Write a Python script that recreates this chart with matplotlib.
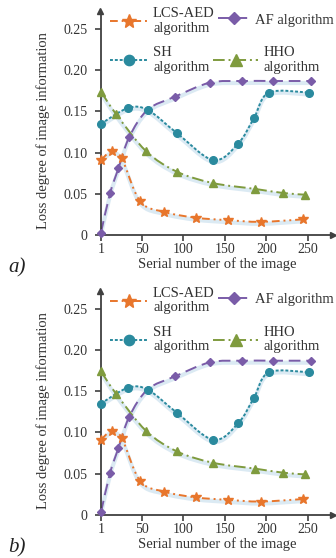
import matplotlib
matplotlib.use('Agg')
import matplotlib.pyplot as plt
from matplotlib.path import Path
from matplotlib.patches import PathPatch
from matplotlib.lines import Line2D
import matplotlib.transforms as mtransforms
import numpy as np

plt.rcParams['font.family'] = ['Liberation Serif', 'DejaVu Serif']

# data
lcs_x = [1, 14, 26, 48, 77, 115, 154, 193, 244]
lcs_y = [0.091, 0.102, 0.093, 0.041, 0.028, 0.021, 0.018, 0.016, 0.019]

af_x = [1, 12, 22, 35, 57, 90, 132, 171, 208, 253]
af_y = [0.003, 0.051, 0.081, 0.119, 0.152, 0.168, 0.185, 0.187, 0.187, 0.187]

sh_x = [1, 33, 57, 92, 136, 166, 185, 203, 251]
sh_y = [0.135, 0.154, 0.152, 0.124, 0.091, 0.111, 0.142, 0.173, 0.173]

hho_x = [1, 19, 55, 92, 136, 186, 220, 246]
hho_y = [0.174, 0.147, 0.102, 0.077, 0.063, 0.056, 0.051, 0.049]

xticks = [1, 50, 100, 150, 200, 250]
yticks = [0, 0.05, 0.10, 0.15, 0.20, 0.25]
ytick_labels = ['0', '0.05', '0.10', '0.15', '0.20', '0.25']

series = [
    # label, x, y, color, marker, markersize, dashes
    ('LCS-AED\nalgorithm', lcs_x, lcs_y, '#e8762c', '*', 7.5, (4, 2, 1, 2, 1, 2)),
    ('AF algorithm', af_x, af_y, '#7a5ca8', 'D', 4.5, (6, 3)),
    ('SH\nalgorithm', sh_x, sh_y, '#2a8a9e', 'o', 5.5, (1.5, 1)),
    ('HHO\nalgorithm', hho_x, hho_y, '#7f9b3e', '^', 6, (6, 2, 1, 2)),
]

W, H = 336, 558
fig = plt.figure(figsize=(W / 100, H / 100), dpi=100)


def smooth_path(x, y):
    # cubic Bezier path through the points (Catmull-Rom style handles)
    p = np.column_stack([x, y]).astype(float)
    ext = np.vstack([p[0], p, p[-1]])
    verts = [p[0]]
    codes = [Path.MOVETO]
    for i in range(len(p) - 1):
        p0, p1, p2, p3 = ext[i], ext[i + 1], ext[i + 2], ext[i + 3]
        c1 = p1 + (p2 - p0) / 6
        c2 = p2 - (p3 - p1) / 6
        verts += [c1, c2, p2]
        codes += [Path.CURVE4] * 3
    return Path(verts, codes)


def px(x, y):
    return (x / W, 1 - y / H)


spine_c = '#404040'
panel_offsets = [0, 279.7]
panel_names = ['a)', 'b)']

for off, name in zip(panel_offsets, panel_names):
    top = 11 + off
    bottom = 235 + off
    ax = fig.add_axes([101 / W, 1 - bottom / H, (333 - 101) / W, (bottom - top) / H])
    ax.set_xlim(1, 280)
    ax.set_ylim(0, 0.272)
    for s in ['top', 'right']:
        ax.spines[s].set_visible(False)
    for s in ['left', 'bottom']:
        ax.spines[s].set_color(spine_c)
        ax.spines[s].set_linewidth(1.3)
    ax.plot(1, 0, '>', color=spine_c, ms=5, transform=ax.get_yaxis_transform(), clip_on=False)
    ax.plot(0, 1, '^', color=spine_c, ms=5, transform=ax.get_xaxis_transform(), clip_on=False)
    ax.set_xticks(xticks)
    ax.set_yticks(yticks)
    ax.set_yticklabels(ytick_labels)
    ax.tick_params(direction='out', length=4.5, width=1.2, color=spine_c,
                   labelsize=10, labelcolor='#333333', pad=1.5)
    ax.tick_params(axis='y', pad=5)

    shadow_tr = mtransforms.offset_copy(ax.transData, fig=fig, x=0, y=-2, units='dots')
    handles = []
    for label, x, y, color, marker, ms, dashes in series:
        path = smooth_path(x, y)
        ax.add_patch(PathPatch(path, fill=False, edgecolor='#d3e5f1', lw=3,
                               alpha=0.8, transform=shadow_tr, zorder=1))
        ax.add_patch(PathPatch(path, fill=False, edgecolor=color, lw=1.4,
                               linestyle=(0, dashes), zorder=2))
        ax.plot(x, y, linestyle='none', marker=marker, color=color, ms=ms,
                clip_on=False, zorder=3)
        handles.append(Line2D([], [], color=color, marker=marker, ms=ms * 1.35,
                              lw=1.4, dashes=dashes, label=label))

    # legend entries, placed one by one like the original
    spots = [(110, 21 + off, 2.6), (218, 20 + off, 2.2),
             (110, 60 + off, 2.6), (213, 60 + off, 3.1)]
    for h, (lx, ly, hl) in zip(handles, spots):
        leg = fig.legend(handles=[h], loc='center left', bbox_to_anchor=px(lx, ly),
                         frameon=False, fontsize=10.5, handlelength=hl,
                         handletextpad=0.35, borderpad=0, borderaxespad=0)
        for t in leg.get_texts():
            t.set_linespacing(1.15)
            t.set_color('#333333')

    fig.text(*px(43, 131 + off), 'Loss degree of image information', rotation=90,
             ha='center', va='center', fontsize=10.5, color='#333333')
    fig.text(*px(217, 264 + off), 'Serial number of the image',
             ha='center', va='center', fontsize=10.5, color='#333333')
    fig.text(*px(8, 268 + off), name, ha='left', va='center', fontsize=15,
             style='italic', color='#222222')

fig.savefig('out.png', dpi=100)
